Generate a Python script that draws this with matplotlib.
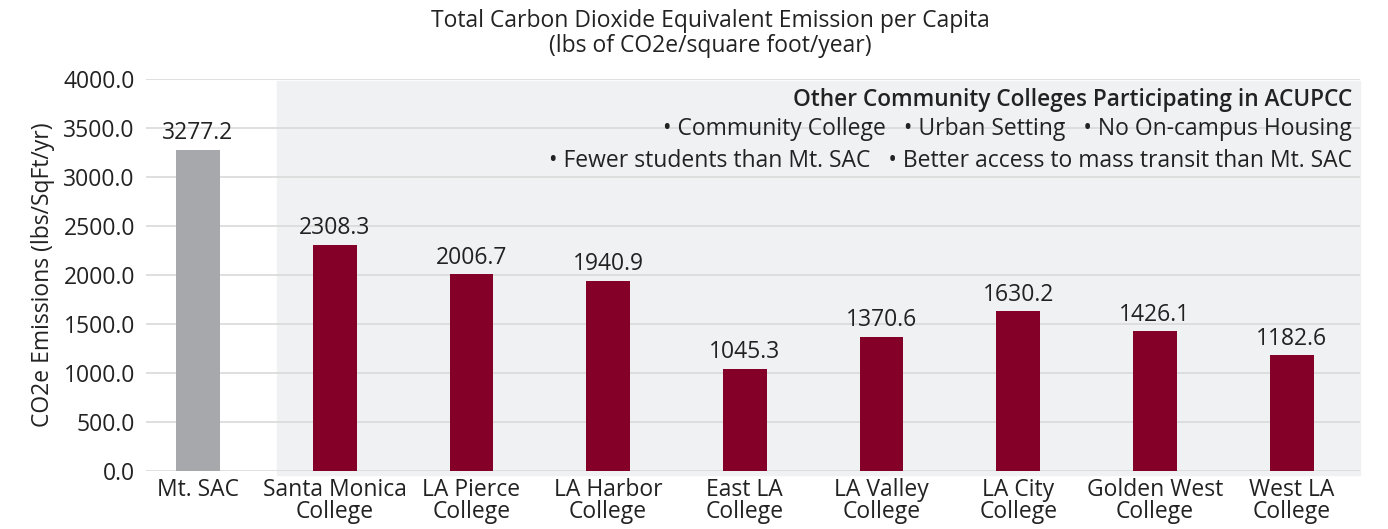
import numpy as np
import matplotlib.pyplot as plt

# Datos
colleges = ["Mt. SAC", "Santa Monica\nCollege", "LA Pierce\nCollege", "LA Harbor\nCollege",
            "East LA\nCollege", "LA Valley\nCollege", "LA City\nCollege",
            "Golden West\nCollege", "West LA\nCollege"]
emissions = [3277.2, 2308.3, 2006.7, 1940.9, 1045.3, 1370.6, 1630.2, 1426.1, 1182.6]
y_ticks = [0, 500, 1000, 1500, 2000, 2500, 3000, 3500, 4000]

plt.rcParams['font.family'] = ['Open Sans', 'DejaVu Sans']

fig = plt.figure(figsize=(13.88, 5.29), dpi=100)
ax = fig.add_axes([146/1388, 1 - 471/529, (1360-146)/1388, (471-79)/529])

x = np.arange(len(colleges))
colors = ['#A7A8AB'] + ['#850029'] * (len(colleges) - 1)

# Zona sombreada (otras universidades)
ax.axvspan(0.58, 8.5, ymin=-0.01, ymax=0.995, color='#F0F1F3', zorder=0, clip_on=False)

ax.bar(x, emissions, width=0.32, color=colors, zorder=3)
for xi, v in zip(x, emissions):
    ax.text(xi, v + 45, f'{v:.1f}', ha='center', va='bottom', fontsize=16.5, color='#222222')

ax.set_xlim(-0.38, 8.5)
ax.set_ylim(0, 4000)
ax.set_yticks(y_ticks)
ax.set_yticklabels([f'{t:.1f}' for t in y_ticks])
ax.set_xticks(x)
ax.set_xticklabels(colleges, linespacing=0.88)
ax.tick_params(length=0, labelsize=16.5, colors='#222222')
ax.tick_params(axis='x', pad=5)
ax.tick_params(axis='y', pad=8)
ax.grid(axis='y', color='#D9D9D9', linewidth=1.2, zorder=1)
ax.set_axisbelow(True)
for s in ax.spines.values():
    s.set_visible(False)

ax.set_ylabel('CO2e Emissions (lbs/SqFt/yr)', fontsize=16.5, color='#222222', labelpad=6)

fig.text(710/1388, 1 - 21/529, 'Total Carbon Dioxide Equivalent Emission per Capita',
         ha='center', va='center', fontsize=16.5, color='#222222')
fig.text(710/1388, 1 - 46/529, '(lbs of CO2e/square foot/year)',
         ha='center', va='center', fontsize=16.5, color='#222222')

xr = 1352/1388
fig.text(xr, 1 - 100/529, 'Other Community Colleges Participating in ACUPCC',
         ha='right', va='center', fontsize=16.3, fontweight='semibold', color='#222222')
fig.text(xr, 1 - 129/529,
         '\u2022 Community College   \u2022 Urban Setting   \u2022 No On-campus Housing',
         ha='right', va='center', fontsize=16.5, color='#222222')
fig.text(xr, 1 - 161/529,
         '\u2022 Fewer students than Mt. SAC   \u2022 Better access to mass transit than Mt. SAC',
         ha='right', va='center', fontsize=16.5, color='#222222')

fig.savefig('out.png', dpi=100)
